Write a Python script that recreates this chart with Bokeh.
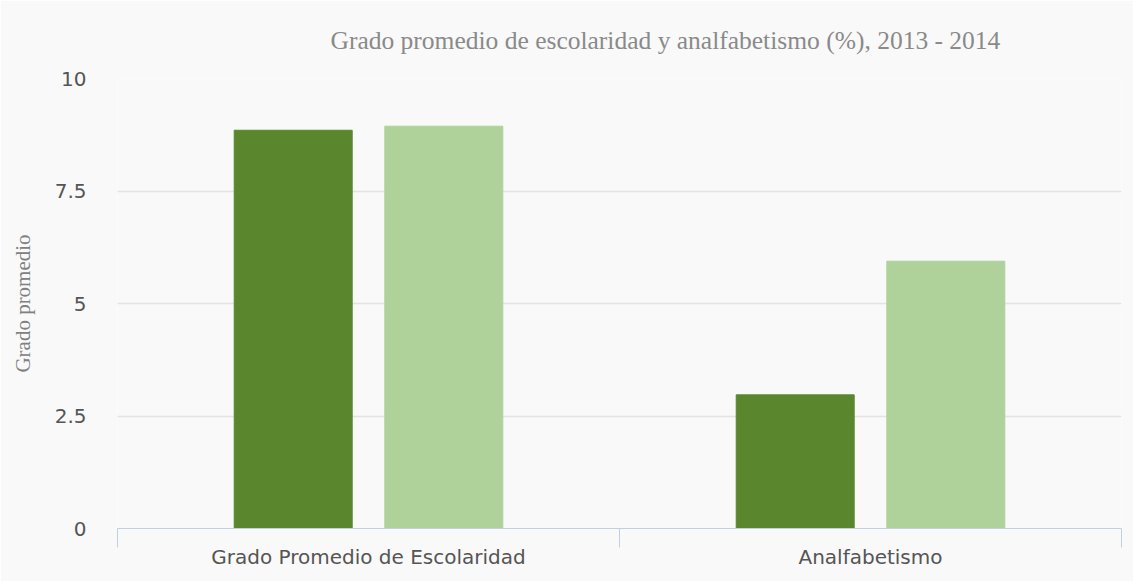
from bokeh.plotting import figure
from bokeh.models import Range1d, FixedTicker, NumeralTickFormatter, Title
from bokeh.embed import file_html
from bokeh.resources import INLINE

categories = ["Grado Promedio de Escolaridad", "Analfabetismo"]
years = ["2013", "2014"]
values_2013 = [8.85, 2.97]
values_2014 = [8.94, 5.94]
y_ticks = [0, 2.5, 5, 7.5, 10]

dark = "#5a872d"
light = "#afd29a"
bg = "#f9f9f9"

p = figure(width=1133, height=581, output_backend="svg", toolbar_location=None,
           x_range=Range1d(0, len(categories)), y_range=Range1d(0, 10),
           min_border_left=117, min_border_right=12, min_border_top=78, min_border_bottom=53)
p.background_fill_color = bg
p.border_fill_color = bg
p.outline_line_color = None

p.title = Title(text="Grado promedio de escolaridad y analfabetismo (%), 2013 - 2014",
                align="left", offset=213, standoff=47,
                text_font="Liberation Serif", text_font_size="25.5px",
                text_font_style="normal", text_color="#8a8a8a")

centers = [i + 0.5 for i in range(len(categories))]
p.vbar(x=[c - 0.15 for c in centers], top=values_2013, width=0.235, bottom=0,
       fill_color=dark, line_color=dark)
p.vbar(x=[c + 0.15 for c in centers], top=values_2014, width=0.235, bottom=0,
       fill_color=light, line_color=light)

# x axis
xa = p.xaxis[0]
xa.ticker = FixedTicker(ticks=centers, minor_ticks=list(range(len(categories) + 1)))
xa.major_label_overrides = {c: name for c, name in zip(centers, categories)}
xa.major_tick_line_color = None
xa.major_tick_in = 0
xa.major_tick_out = 15
xa.minor_tick_in = 0
xa.minor_tick_out = 19
xa.minor_tick_line_color = "#c0d0e0"
xa.axis_line_color = "#c0d0e0"
xa.major_label_standoff = -3
xa.major_label_text_font = "DejaVu Sans"
xa.major_label_text_font_size = "20px"
xa.major_label_text_color = "#555555"

# y axis
ya = p.yaxis[0]
ya.ticker = FixedTicker(ticks=y_ticks)
ya.formatter = NumeralTickFormatter(format="0.[0]")
ya.axis_line_color = None
ya.major_tick_line_color = None
ya.minor_tick_line_color = None
ya.major_tick_in = 0
ya.major_tick_out = 0
ya.major_label_standoff = 31
ya.major_label_text_font = "DejaVu Sans"
ya.major_label_text_font_size = "20px"
ya.major_label_text_color = "#555555"
ya.axis_label = "Grado promedio"
ya.axis_label_text_font = "Liberation Serif"
ya.axis_label_text_font_style = "normal"
ya.axis_label_text_font_size = "21px"
ya.axis_label_text_color = "#808080"
ya.axis_label_standoff = 17

p.xgrid.grid_line_color = None
p.ygrid.ticker = FixedTicker(ticks=y_ticks)
p.ygrid.grid_line_color = "#e3e3e3"
p.ygrid.grid_line_width = 1.5

open("out.html", "w").write(file_html(p, INLINE))
